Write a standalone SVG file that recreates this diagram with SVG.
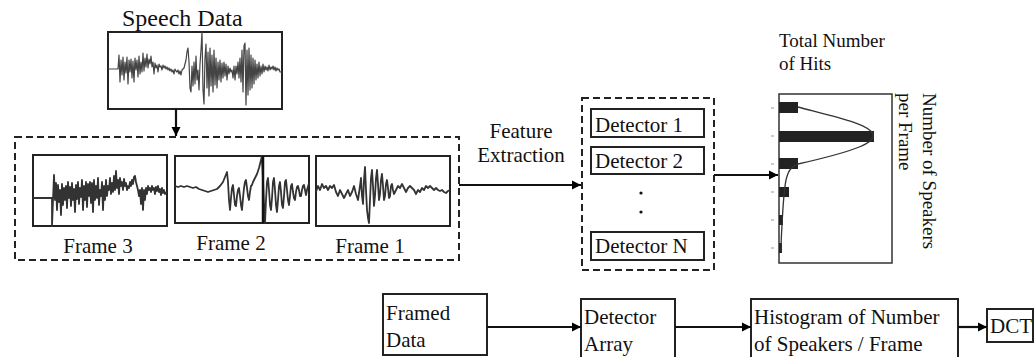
<svg xmlns="http://www.w3.org/2000/svg" width="1036" height="357" viewBox="0 0 1036 357" font-family="'Liberation Serif', 'Times New Roman', serif">
<defs>
<marker id="ah" markerUnits="userSpaceOnUse" markerWidth="10" markerHeight="10" refX="9" refY="5" orient="auto">
<path d="M0,0.5 L9,5 L0,9.5 Z" fill="#000"/>
</marker>
<style>
text{font-family:'Liberation Serif','Times New Roman',serif;fill:#111}
.box{fill:#fff;stroke:#222;stroke-width:2}
.dash{fill:none;stroke:#222;stroke-width:2;stroke-dasharray:7,4}
.conn{fill:none;stroke:#111;stroke-width:2.2}
.wave{fill:none;stroke:#444;stroke-width:1.2;stroke-linejoin:round}
.fw{fill:none;stroke:#333;stroke-width:1.8;stroke-linejoin:round}
.bar{fill:#222}
.t21{font-size:21px}
</style>
</defs>
<rect width="1036" height="357" fill="#fff"/>

<g id="speech">
<text x="122" y="26" font-size="24" font-family="'Liberation Serif', serif">Speech Data</text>
<rect class="box" x="108" y="32" width="174" height="77"/>
<polyline class="wave" points="108,69 118,69 119,55 120,82 121,60 122,75 123,57 124,80 125,62 126,73 127,57 128,84 129,60 130,72 131,59 132,78 133,61 134,82 135,58 136,70 137,60 138,77 139,56 140,74 141,62 142,72 143,53 144,71 145,58 146,67 147,54 148,68 149,59 150,64 151,56 152,67 153,62 154,74 155,63 156,68 157,65 158,72 159,64 160,67 161,66 162,70 163,65 164,68 165,66 166,69 167,67 168,70 169,68 170,71 171,69 172,72 173,70 174,74 175,69 176,71 177,72 178,70 179,74 180,71 181,75 182,70 184,68 186,60 187,52 188,48 189,62 190,88 191,92 192,66 193,86 194,62 195,84 196,56 197,80 198,70 199,90 200,64 201,50 202,32 203,90 204,104 205,58 206,44 207,88 208,52 209,96 210,48 211,86 212,55 213,92 214,50 215,85 216,58 217,88 218,62 219,80 220,60 221,82 222,63 223,78 224,62 225,76 226,64 227,80 228,66 229,74 230,68 231,72 232,70 233,78 234,66 235,80 236,66 237,74 238,62 239,78 240,58 241,82 242,50 243,92 244,46 245,43 246,105 247,50 248,95 249,48 250,90 251,55 252,88 253,58 254,84 255,60 256,80 257,64 258,78 259,62 260,76 261,66 262,74 263,64 264,72 265,66 266,70 267,67 268,71 269,65 270,70 271,67 272,69 273,66 274,70 275,67 276,71 277,68 278,70 279,69 280,72 282,72"/>
</g>

<g id="frames">
<rect class="dash" x="15" y="137" width="444" height="123"/>
<g id="frame3">
<rect class="box" x="33" y="155" width="134" height="71"/>
<polyline class="fw" points="33,198 52,198 52,226 53,200 54,175 55,200 56,183 57,210 58,185 59,202 60,190 61,215 62,184 63,205 64,188 65,200 66,186 67,208 68,182 69,198 70,187 71,206 72,183 73,200 74,189 75,212 76,185 77,199 78,182 79,204 80,188 81,197 82,180 83,210 84,186 85,200 86,182 87,207 88,184 89,196 90,182 91,203 92,183 93,212 94,180 95,200 96,186 97,198 98,178 99,205 100,190 101,196 102,182 103,210 104,186 105,200 106,180 107,196 108,186 109,190 110,178 111,194 112,183 113,192 114,176 115,190 116,171 117,188 118,180 119,194 120,178 121,186 122,182 123,190 124,179 125,186 126,183 127,190 128,186 129,188 130,182 131,186 132,180 133,184 134,177 135,176 136,182 137,186 138,190 139,196 140,190 141,204 142,188 143,210 144,190 145,200 146,188 147,194 148,186 149,190 150,188 151,192 152,186 153,190 154,188 155,194 156,187 157,191 158,186 159,192 160,189 161,195 162,188 163,193 164,190 165,194 167,192"/>
<text class="t21" x="98" y="253" text-anchor="middle">Frame 3</text>
</g>
<g id="frame2">
<rect class="box" x="175" y="156" width="134" height="67"/>
<polyline class="fw" points="175,186 178,187 181,186 184,187 187,186 190,187 193,188 196,187 199,189 202,190 205,191 208,192 211,191 214,190 217,189 220,186 223,182 225,177 227,172 228,182 229,200 230,210 231,198 232,188 233,185 234,195 235,205 236,206 237,196 238,190 239,188 240,196 241,205 242,210 243,198 244,188 245,182 246,180 247,188 248,196 249,200 250,192 251,186 252,185 253,182 255,178 257,174 259,168 261,160 262,156 263,180 264,205 265,223 266,200 267,182 268,178 269,190 270,205 271,210 272,198 273,182 274,178 275,190 276,205 277,212 278,200 279,186 280,182 281,192 282,205 283,208 284,196 285,182 286,180 287,190 288,200 289,205 290,196 291,186 292,184 293,192 294,198 295,200 296,192 297,187 298,186 299,190 300,196 301,196 302,190 303,186 304,185 305,190 306,195 307,190 309,183"/>
<line x1="263" y1="156" x2="263" y2="223" stroke="#111" stroke-width="2.5"/>
<text class="t21" x="231" y="250" text-anchor="middle">Frame 2</text>
</g>
<g id="frame1">
<rect class="box" x="316" y="156" width="134" height="70"/>
<polyline class="fw" points="316,192 318,186 320,190 322,184 324,188 326,186 328,190 330,186 332,188 334,185 336,192 338,196 340,190 342,194 344,198 346,194 348,190 350,196 352,192 354,186 356,194 358,200 360,186 361,178 362,196 363,204 364,180 365,167 366,190 367,210 368,218 369,223 370,200 371,178 372,170 373,186 374,206 375,196 376,178 377,170 378,184 379,200 380,194 381,180 382,174 383,186 384,200 385,196 386,184 387,180 388,188 389,198 390,196 391,186 392,184 393,190 394,194 396,190 398,186 400,188 402,184 404,188 406,192 408,188 410,186 412,188 414,190 416,194 418,190 420,192 422,188 424,190 426,186 428,188 430,186 432,188 434,190 436,188 438,190 440,191 442,190 444,192 446,193 448,191 450,190"/>
<text class="t21" x="370" y="253" text-anchor="middle">Frame 1</text>
</g>
</g>

<g id="feature-label">
<text class="t21" x="521" y="138" text-anchor="middle">Feature</text>
<text class="t21" x="521" y="162" text-anchor="middle">Extraction</text>
</g>

<g id="detectors">
<rect class="dash" x="582" y="98" width="132" height="172"/>
<rect class="box" x="591" y="109" width="113" height="28"/>
<text class="t21" x="595" y="132">Detector 1</text>
<rect class="box" x="591" y="147" width="113" height="27"/>
<text class="t21" x="595" y="168">Detector 2</text>
<circle cx="641" cy="193" r="1.6" fill="#111"/>
<circle cx="641" cy="212" r="1.6" fill="#111"/>
<rect class="box" x="591" y="232" width="113" height="28"/>
<text class="t21" x="595" y="253">Detector N</text>
</g>

<g id="histogram">
<text x="779" y="47" font-size="19">Total Number</text>
<text x="779" y="70" font-size="19">of Hits</text>
<rect x="779" y="94" width="113" height="169" fill="#fff" stroke="#333" stroke-width="1.5"/>
<g stroke="#999" stroke-width="1">
<line x1="771" y1="108" x2="774" y2="108"/><line x1="771" y1="136" x2="774" y2="136"/><line x1="771" y1="164" x2="774" y2="164"/><line x1="771" y1="192" x2="774" y2="192"/><line x1="771" y1="220" x2="774" y2="220"/><line x1="771" y1="248" x2="774" y2="248"/>
</g>
<rect class="bar" x="779" y="102" width="19" height="11"/>
<rect class="bar" x="779" y="131" width="95" height="11"/>
<rect class="bar" x="779" y="158" width="19" height="11"/>
<rect class="bar" x="779" y="187" width="10" height="10"/>
<rect class="bar" x="779" y="215" width="4" height="10"/>
<rect class="bar" x="779" y="243" width="3" height="10"/>
<path d="M798,107 C840,118 868,124 873,134 C876,142 860,150 798,164 C790,167 788,172 786,180 C784,190 783,205 782,225 C781,240 781,248 781,252" fill="none" stroke="#333" stroke-width="1.3"/>
<text transform="translate(923,93) rotate(90)" font-size="19">Number of Speakers</text>
<text transform="translate(899,93) rotate(90)" font-size="19">per Frame</text>
</g>

<g id="framed-data">
<rect class="box" x="383" y="294" width="104" height="61"/>
<text class="t21" x="386" y="320">Framed</text>
<text class="t21" x="386" y="347">Data</text>
</g>
<g id="detector-array">
<rect class="box" x="581" y="299" width="94" height="62"/>
<text class="t21" x="584" y="324">Detector</text>
<text class="t21" x="584" y="351">Array</text>
</g>
<g id="hist-box">
<rect class="box" x="751" y="299" width="207" height="62"/>
<text class="t21" x="754" y="324">Histogram of Number</text>
<text class="t21" x="754" y="351">of Speakers / Frame</text>
</g>
<g id="dct">
<rect class="box" x="987" y="309" width="46" height="33"/>
<text class="t21" x="990" y="333">DCT</text>
</g>

<g id="connectors">
<line class="conn" x1="176" y1="109" x2="176" y2="136" marker-end="url(#ah)"/>
<line class="conn" x1="459" y1="185" x2="581" y2="185" marker-end="url(#ah)"/>
<line class="conn" x1="714" y1="175" x2="778" y2="175" marker-end="url(#ah)"/>
<line class="conn" x1="487" y1="327" x2="581" y2="327" marker-end="url(#ah)"/>
<line class="conn" x1="675" y1="327" x2="751" y2="327" marker-end="url(#ah)"/>
<line class="conn" x1="958" y1="327" x2="987" y2="327" marker-end="url(#ah)"/>
</g>
</svg>
